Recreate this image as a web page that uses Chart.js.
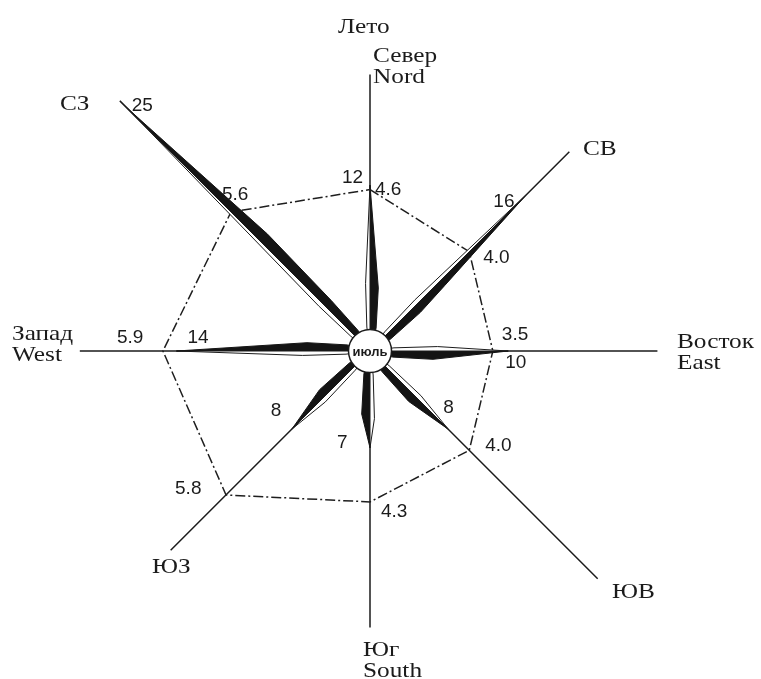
<!DOCTYPE html>
<html><head><meta charset="utf-8">
<script src="https://cdn.jsdelivr.net/npm/chart.js@4.4.0/dist/chart.umd.min.js"></script>
<style>
html,body{margin:0;padding:0;width:761px;height:679px;overflow:hidden;background:#fff;}
#wrap{position:absolute;left:-21px;top:0;width:782px;height:702px;}
canvas{display:block;}
</style></head><body>
<div id="wrap"><canvas id="c" width="782" height="702"></canvas></div>
<script>
// ---- data ----
const directionsRu = ['Север', 'СВ', 'Восток', 'ЮВ', 'Юг', 'ЮЗ', 'Запад', 'СЗ'];
const directionsEn = ['Nord', '', 'East', '', 'South', '', 'West', ''];
const frequency = [12, 16, 10, 8, 7, 8, 14, 25];          // повторяемость ветра
const speed = [4.6, 4.0, 3.5, 4.0, 4.3, 5.8, 5.9, 5.6];   // скорость ветра
const seasonTitle = 'Лето';
const monthTitle = 'июль';
const frequencyMax = 25.4;
const speedMax = 10;

// ---- style ----
const SUB = 12;                        // angular sub-steps between directions (3.75° each)
const NEEDLE_MID_FRAC = 0.45;          // black half: outer shoulder at this share of needle length (3.75°)
const NEEDLE_SIDE = 4.6, NEEDLE_BASE = 1.7;       // black half: inner shoulder (7.5°) and base (15°)
const WHITE_SIDE = 4.9, WHITE_BASE = 1.75;        // white half: shoulder (3.75°) and base (7.5°)
const AXIS_REACH = [20.0, 20.4, 20.8, 23.3, 20.0, 20.4, 21.0, 25.6];
const FREQ_LABEL_OFFSET = [[-28,-2],[-33,12],[-3,17],[-5,-16],[-33,0],[-21,-13],[11,-8],[6,4]];
const SPEED_LABEL_OFFSET = [[5,5],[14,11],[9,-11],[16,1],[11,15],[-51,-1],[-46,-8],[-9,-12]];
const DIR_LABEL_POS = [[3,-289],[213,-196],[307,-3],[242,247],[-7,305],[-218,222],[-358,-11],[-310,-241]];
const DIR_EN_DY = 21;
const SEASON_POS = [-32,-318];
const INK = '#1b1b1b';

const step = 2 * Math.PI / (directionsRu.length * SUB);
function outerShoulder(f) {
  // keep the needle outline convex: only add the outer shoulder if it lies outside the tip–inner-shoulder edge
  const r1 = NEEDLE_MID_FRAC * f;
  const off1 = r1 * Math.sin(step), ax1 = r1 * Math.cos(step);
  const off2 = NEEDLE_SIDE * Math.sin(2 * step), ax2 = NEEDLE_SIDE * Math.cos(2 * step);
  const edge = off2 * (f - ax1) / (f - ax2);
  return off1 > edge ? r1 : null;
}

const n = directionsRu.length * SUB;
const labels = new Array(n).fill('');
const blackStar = [], whiteHalf = [], speedLine = [], axisLine = [];
for (let k = 0; k < directionsRu.length; k++) {
  const f = frequency[k];
  const b = new Array(SUB).fill(0); b[0] = f; b[1] = outerShoulder(f); b[2] = NEEDLE_SIDE; b[3] = null; b[4] = NEEDLE_BASE;
  const w = new Array(SUB).fill(0); w[0] = f; w[SUB - 2] = WHITE_BASE; w[SUB - 1] = WHITE_SIDE;
  const s = new Array(SUB).fill(null); s[0] = speed[k];
  const a = new Array(SUB).fill(0); a[0] = AXIS_REACH[k];
  blackStar.push(...b); whiteHalf.push(...w); speedLine.push(...s); axisLine.push(...a);
}

const overlay = {
  id: 'overlay',
  afterDatasetsDraw(chart) {
    const s = chart.scales.r, sp = chart.scales.rs, ctx = chart.ctx;
    const cx = s.xCenter, cy = s.yCenter;
    ctx.save();
    // center disc
    ctx.beginPath(); ctx.arc(cx, cy, 21.5, 0, Math.PI * 2);
    ctx.fillStyle = '#fff'; ctx.fill();
    ctx.lineWidth = 1.5; ctx.strokeStyle = INK; ctx.stroke();
    ctx.fillStyle = INK;
    ctx.font = 'bold 13px "Liberation Sans", Arial, sans-serif';
    ctx.textAlign = 'center'; ctx.textBaseline = 'middle';
    ctx.fillText(monthTitle, cx, cy + 1);
    // values
    ctx.font = '19px "Liberation Sans", Arial, sans-serif';
    ctx.textAlign = 'left'; ctx.textBaseline = 'alphabetic';
    frequency.forEach((v, k) => {
      const p = s.getPointPositionForValue(k * SUB, v), o = FREQ_LABEL_OFFSET[k];
      ctx.fillText(String(v), p.x + o[0], p.y + o[1]);
    });
    speed.forEach((v, k) => {
      const p = sp.getPointPositionForValue(k * SUB, v), o = SPEED_LABEL_OFFSET[k];
      ctx.fillText(v.toFixed(1), p.x + o[0], p.y + o[1]);
    });
    // direction names
    ctx.font = '22px "Liberation Serif", "Times New Roman", serif';
    const txt = (t, x, y) => { ctx.save(); ctx.translate(x, y); ctx.scale(1.15, 1); ctx.fillText(t, 0, 0); ctx.restore(); };
    directionsRu.forEach((t, k) => {
      const o = DIR_LABEL_POS[k];
      txt(t, cx + o[0], cy + o[1]);
      if (directionsEn[k]) txt(directionsEn[k], cx + o[0], cy + o[1] + DIR_EN_DY);
    });
    txt(seasonTitle, cx + SEASON_POS[0], cy + SEASON_POS[1]);
    ctx.restore();
  }
};

new Chart(document.getElementById('c'), {
  type: 'radar',
  data: {
    labels,
    datasets: [
      { data: whiteHalf, rAxisID: 'r', fill: 'shape', backgroundColor: '#ffffff', borderColor: INK, borderWidth: 1, borderJoinStyle: 'bevel' },
      { data: blackStar, rAxisID: 'r', fill: 'shape', spanGaps: true, backgroundColor: '#141414', borderColor: '#141414', borderWidth: 1, borderJoinStyle: 'bevel' },
      { data: speedLine, rAxisID: 'rs', fill: false, spanGaps: true, borderColor: '#1e1e1e', borderWidth: 1.5, borderDash: [10, 3, 2, 3], backgroundColor: 'transparent' },
      { data: axisLine, rAxisID: 'r', fill: false, borderColor: INK, borderWidth: 1.5, borderJoinStyle: 'bevel', backgroundColor: 'transparent' }
    ]
  },
  options: {
    responsive: false, animation: false, devicePixelRatio: 1,
    layout: { padding: 0 },
    plugins: { legend: { display: false }, tooltip: { enabled: false } },
    elements: { point: { radius: 0, hoverRadius: 0, hitRadius: 0 }, line: { tension: 0 } },
    scales: {
      r: { type: 'radialLinear', axis: 'r', display: false, min: 0, max: frequencyMax, ticks: { display: false }, pointLabels: { display: false }, grid: { display: false }, angleLines: { display: false } },
      rs: { type: 'radialLinear', axis: 'r', display: false, min: 0, max: speedMax, ticks: { display: false }, pointLabels: { display: false }, grid: { display: false }, angleLines: { display: false } }
    }
  },
  plugins: [overlay]
});
</script>
</body></html>
